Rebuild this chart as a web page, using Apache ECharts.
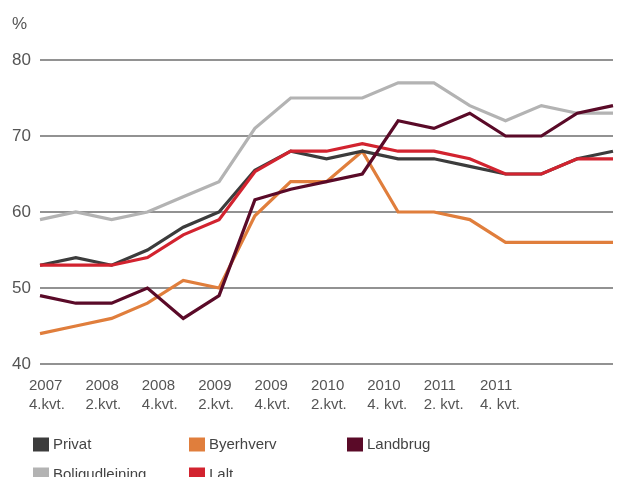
<!DOCTYPE html>
<html>
<head>
<meta charset="utf-8">
<script src="https://cdn.jsdelivr.net/npm/echarts@6/dist/echarts.min.js"></script>
<style>
  html, body { margin: 0; padding: 0; background: #fff; }
  #chart { width: 622px; height: 477px; }
</style>
</head>
<body>
<div id="chart"></div>
<script>
// Quarters from 2007 4.kvt. to 2011 4.kvt.
var quarters = ['2007 Q4','2008 Q1','2008 Q2','2008 Q3','2008 Q4','2009 Q1','2009 Q2','2009 Q3','2009 Q4',
                '2010 Q1','2010 Q2','2010 Q3','2010 Q4','2011 Q1','2011 Q2','2011 Q3','2011 Q4'];
var tickLabels = ['2007\n4.kvt.','2008\n2.kvt.','2008\n4.kvt.','2009\n2.kvt.','2009\n4.kvt.',
                  '2010\n2.kvt.','2010\n4. kvt.','2011\n2. kvt.','2011\n4. kvt.'];

var privat         = [53, 54, 53, 55, 58, 60, 65.5, 68, 67, 68, 67, 67, 66, 65, 65, 67, 68];
var byerhverv      = [44, 45, 46, 48, 51, 50, 59.5, 64, 64, 68, 60, 60, 59, 56, 56, 56, 56];
var landbrug       = [49, 48, 48, 50, 46, 49, 61.6, 63, 64, 65, 72, 71, 73, 70, 70, 73, 74];
var boligudleining = [59, 60, 59, 60, 62, 64, 71, 75, 75, 75, 77, 77, 74, 72, 74, 73, 73];
var iAlt           = [53, 53, 53, 54, 57, 59, 65.3, 68, 68, 69, 68, 68, 67, 65, 65, 67, 67];

var colors = {
  'Privat': '#3c3c3c',
  'Byerhverv': '#e07e3c',
  'Landbrug': '#5a0a28',
  'Boligudleining': '#b3b3b3',
  'I alt': '#d2232f'
};

var FONT = '"Liberation Sans", Arial, sans-serif';

function line(name, data) {
  return {
    name: name,
    type: 'line',
    data: data,
    xAxisIndex: 0,
    yAxisIndex: 0,
    symbol: 'none',
    lineStyle: { width: 3.2, color: colors[name], join: 'miter' },
    itemStyle: { color: colors[name] },
    animation: false
  };
}

function legendAt(name, left, top) {
  return {
    data: [name],
    left: left,
    top: top,
    padding: 0,
    itemWidth: 16,
    itemHeight: 14,
    itemGap: 0,
    icon: 'rect',
    textStyle: { fontFamily: FONT, fontSize: 15, color: '#444', padding: [0, 0, 0, -1] },
    selectedMode: false
  };
}

var chart = echarts.init(document.getElementById('chart'));
chart.setOption({
  backgroundColor: '#fff',
  animation: false,
  grid: [
    { left: 40, right: 9, top: 60, bottom: 113 },
    { left: 29, right: 142, top: 60, bottom: 113 }
  ],
  xAxis: [
    {
      type: 'category', gridIndex: 0, data: quarters, boundaryGap: false,
      axisLine: { show: false }, axisTick: { show: false }, axisLabel: { show: false },
      splitLine: { show: false }
    },
    {
      type: 'category', gridIndex: 1, data: tickLabels, boundaryGap: false,
      axisLine: { show: false }, axisTick: { show: false }, splitLine: { show: false },
      axisLabel: {
        show: true, interval: 0, align: 'left', margin: 12,
        fontFamily: FONT, fontSize: 15, lineHeight: 19, color: '#555'
      }
    }
  ],
  yAxis: [
    {
      type: 'value', gridIndex: 0, min: 40, max: 80, interval: 10,
      name: '%', nameLocation: 'end', nameGap: 27,
      nameTextStyle: { fontFamily: FONT, fontSize: 17, color: '#555', align: 'left', padding: [0, 0, 0, -28] },
      axisLine: { show: false }, axisTick: { show: false },
      axisLabel: { fontFamily: FONT, fontSize: 17, color: '#555', margin: 9 },
      splitLine: { lineStyle: { color: '#6e6e6e', width: 1.5 } }
    },
    {
      type: 'value', gridIndex: 1, min: 40, max: 80, show: false
    }
  ],
  legend: [
    legendAt('Privat', 33, 437),
    legendAt('Byerhverv', 189, 437),
    legendAt('Landbrug', 347, 437),
    legendAt('Boligudleining', 33, 467),
    legendAt('I alt', 189, 467)
  ],
  series: [
    line('Boligudleining', boligudleining),
    line('Byerhverv', byerhverv),
    line('Privat', privat),
    line('I alt', iAlt),
    line('Landbrug', landbrug)
  ]
});
</script>
</body>
</html>
